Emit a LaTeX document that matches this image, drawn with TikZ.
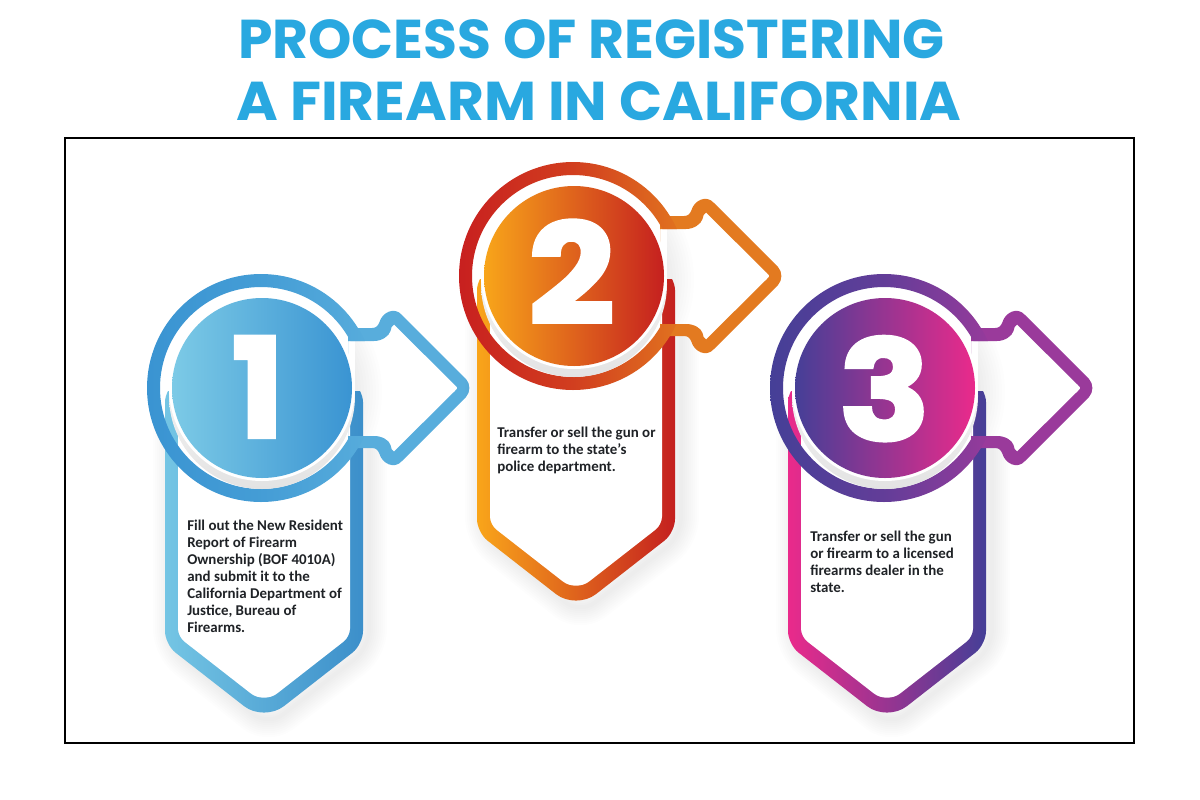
\documentclass[tikz,border=0pt]{standalone}
\usepackage{fontspec}
\setmainfont{Carlito}
\newfontfamily\titlefont{Poppins Bold}
\newfontfamily\digitfont[FakeBold=2.5]{Poppins Bold}
\usetikzlibrary{calc}
\definecolor{titleblue}{HTML}{29A8E0}
\definecolor{textdark}{HTML}{1F2226}
\definecolor{aRingL}{HTML}{3A94D2}\definecolor{aRingR}{HTML}{58ADDC}
\definecolor{aDiscL}{HTML}{7CCAE6}\definecolor{aDiscR}{HTML}{3A94D2}
\definecolor{aBodyL}{HTML}{74C5E4}\definecolor{aBodyR}{HTML}{3C8FCA}
\definecolor{aArrow}{HTML}{58ADDC}
\definecolor{bRingL}{HTML}{C8201F}\definecolor{bRingR}{HTML}{E2761F}
\definecolor{bDiscL}{HTML}{F8A51A}\definecolor{bDiscR}{HTML}{C5201F}
\definecolor{bBodyL}{HTML}{F9A51A}\definecolor{bBodyR}{HTML}{C4201F}
\definecolor{bArrow}{HTML}{E37A20}
\definecolor{cRingL}{HTML}{453F97}\definecolor{cRingR}{HTML}{9A3A9B}
\definecolor{cDiscL}{HTML}{453F97}\definecolor{cDiscR}{HTML}{EA2A8B}
\definecolor{cBodyL}{HTML}{EA2A8B}\definecolor{cBodyR}{HTML}{453F97}
\definecolor{cArrow}{HTML}{9A3A9B}
\tikzset{
  x=0.75pt,y=-0.75pt,
  titletext/.style={font=\titlefont\fontsize{41}{46}\selectfont,text=titleblue,inner sep=0pt,anchor=base},
  bodytext/.style={font=\bfseries\fontsize{11.2}{12.7}\selectfont,text=textdark,inner sep=0pt,anchor=north west,align=left},
  digittext/.style={font=\digitfont\fontsize{104}{104}\selectfont,text=white,inner sep=0pt,anchor=base},
  frameline/.style={draw=black,line width=1.1pt},
}
\newcommand{\arrowouter}{(348,328) -- (372,328) .. controls (376,328) and (378,326) .. (379.5,322) .. controls (382,313) and (394,306) .. (402,315) -- (466,379) .. controls (470.5,384) and (470.5,392) .. (466,397) -- (402,461) .. controls (394,470) and (382,463) .. (379.5,454) .. controls (378,450) and (376,448) .. (372,448) -- (348,448) -- cycle}
\newcommand{\arrowinner}{(348,341) -- (374,341) .. controls (382,341) and (389,336) .. (390.5,331) .. controls (391,328) and (392,325) .. (394,324.5) -- (455,385) .. controls (458,388) .. (455,391) -- (394,451.5) .. controls (392,451) and (391,448) .. (390.5,445) .. controls (389,440) and (382,436) .. (374,436) -- (348,436) -- cycle}
\newcommand{\stepgroup}[3]{%
 % #1 shift x, #2 shift y, #3 colour prefix
 \begin{scope}[shift={(#1,#2)}]
  \foreach \w in {4,8,...,36}{
    \draw[black,opacity=0.006,line width=\w*0.75pt,line join=round,rounded corners=14pt]
      (171,420) -- (171,648) -- (268,726) -- (369,648) -- (369,420);
  }
  \fill[white] \arrowinner;
  \begin{scope}
    \clip (355,338) rectangle (470,438);
    \foreach \r in {96,99,...,120}{
      \fill[black,opacity=0.008] (262,392) circle[radius=\r];
    }
  \end{scope}
  \shade[left color=#3BodyL,right color=#3BodyR]
    (165,402) .. controls (165,399) and (166,395) .. (168,391) -- (360,391) .. controls (362,395) and (363,399) .. (363,402)
    [rounded corners=10pt] -- (363,644.4) [rounded corners=19pt] -- (264,721.7) [rounded corners=10pt] -- (165,644.4) [sharp corners] -- cycle;
  \fill[white] (178,380) -- (350,380)
    [rounded corners=6pt] -- (350,636.6) [rounded corners=12.5pt] -- (264,703.7) [rounded corners=6pt] -- (178,636.6) [sharp corners] -- cycle;
  \fill[#3Arrow,even odd rule] \arrowouter \arrowinner;
  \begin{scope}
    \clip (100,200) -- (500,200) -- (500,341) -- (340,341) -- (340,436) -- (500,436) -- (500,560) -- (100,560) -- cycle;
    \shade[even odd rule,left color=#3RingL,right color=#3RingR,middle color=#3RingL!65!#3RingR]
      (261,388) circle[radius=114] (261,388) circle[radius=101];
  \end{scope}
  \shade[top color=white,bottom color=black!11] (262,396) circle[radius=93];
  \fill[white] (262,388) circle[radius=93];
  \shade[left color=#3DiscL,right color=#3DiscR] (262,388) circle[radius=90];
 \end{scope}
}
\begin{document}
\begin{tikzpicture}
\useasboundingbox (0,0) rectangle (1200,800);
\fill[white] (0,0) rectangle (1200,800);
\node[titletext] (title1) at (591.5,58) {\scalebox{1.009}[1]{PROCESS OF REGISTERING}};
\node[titletext] (title2) at (599,120) {\scalebox{1.036}[1]{A FIREARM IN CALIFORNIA}};
\draw[frameline] (65,138) rectangle (1134,743);

\stepgroup{0}{0}{a}
\stepgroup{312}{-112}{b}
\stepgroup{623}{0}{c}

\node[digittext] (digit1) at (258,437.5) {1};
\node[digittext] (digit2) at (571.5,323.5) {\scalebox{1.09}[1]{2}};
\node[digittext] (digit3) at (884.5,440) {\scalebox{1.09}[1]{3}};

\node[bodytext] (text1) at (187,520) {Fill out the New Resident\\Report of Firearm\\Ownership (BOF 4010A)\\and submit it to the\\California Department of\\Justice, Bureau of\\Firearms.};
\node[bodytext] (text2) at (497,427) {Transfer or sell the gun or\\firearm to the state's\\police department.};
\node[bodytext] (text3) at (810,531) {Transfer or sell the gun\\or firearm to a licensed\\firearms dealer in the\\state.};
\end{tikzpicture}
\end{document}
